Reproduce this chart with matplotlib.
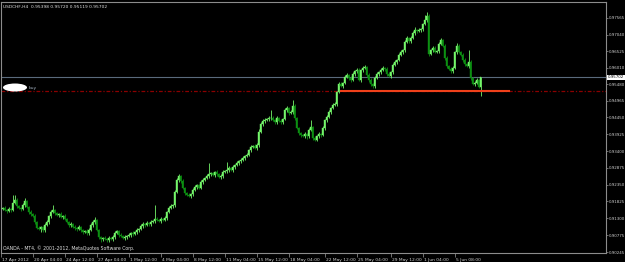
import numpy as np
import matplotlib
matplotlib.use("Agg")
import matplotlib.pyplot as plt
import matplotlib.transforms as mtransforms
from matplotlib.patches import Ellipse

# Title strings
symbol_info = "USDCHF,H4  0.95398 0.95720 0.95119 0.95702"
copyright_text = "OANDA - MT4, \u00a9 2001-2012, MetaQuotes Software Corp."

# H4 candles (open of each bar = close of the bar before)
first_open = 0.9160
closes = [
    0.9162, 0.9156, 0.9153, 0.9159, 0.9156, 0.9178, 0.9187, 0.9168, 0.9162, 0.9159,
    0.9171, 0.9184, 0.9165, 0.9150, 0.9143, 0.9137, 0.9118, 0.9100, 0.9096, 0.9103,
    0.9093, 0.9109, 0.9118, 0.9137, 0.9150, 0.9156, 0.9146, 0.9140, 0.9143, 0.9134,
    0.9137, 0.9128, 0.9118, 0.9109, 0.9112, 0.9103, 0.9100, 0.9096, 0.9103, 0.9093,
    0.9087, 0.9090, 0.9084, 0.9093, 0.9109, 0.9118, 0.9125, 0.9093, 0.9071, 0.9065,
    0.9068, 0.9065, 0.9062, 0.9068, 0.9065, 0.9071, 0.9084, 0.9090, 0.9078, 0.9075,
    0.9068, 0.9071, 0.9075, 0.9078, 0.9084, 0.9081, 0.9087, 0.9093, 0.9096, 0.9106,
    0.9112, 0.9109, 0.9115, 0.9112, 0.9118, 0.9121, 0.9128, 0.9125, 0.9121, 0.9128,
    0.9125, 0.9131, 0.9150, 0.9162, 0.9168, 0.9171, 0.9212, 0.9250, 0.9262, 0.9246,
    0.9225, 0.9209, 0.9203, 0.9200, 0.9206, 0.9218, 0.9228, 0.9234, 0.9225, 0.9243,
    0.9250, 0.9256, 0.9262, 0.9268, 0.9271, 0.9265, 0.9275, 0.9268, 0.9259, 0.9262,
    0.9275, 0.9278, 0.9281, 0.9287, 0.9281, 0.9290, 0.9296, 0.9303, 0.9309, 0.9312,
    0.9318, 0.9325, 0.9328, 0.9343, 0.9353, 0.9356, 0.9350, 0.9359, 0.9400, 0.9425,
    0.9434, 0.9437, 0.9440, 0.9443, 0.9443, 0.9437, 0.9431, 0.9443, 0.9434, 0.9431,
    0.9440, 0.9468, 0.9475, 0.9459, 0.9462, 0.9481, 0.9443, 0.9412, 0.9396, 0.9390,
    0.9387, 0.9393, 0.9387, 0.9406, 0.9415, 0.9381, 0.9375, 0.9387, 0.9393, 0.9390,
    0.9412, 0.9437, 0.9446, 0.9462, 0.9475, 0.9484, 0.9487, 0.9525, 0.9550, 0.9543,
    0.9553, 0.9571, 0.9578, 0.9568, 0.9562, 0.9581, 0.9590, 0.9593, 0.9562, 0.9593,
    0.9600, 0.9603, 0.9578, 0.9562, 0.9550, 0.9543, 0.9568, 0.9581, 0.9587, 0.9593,
    0.9600, 0.9596, 0.9581, 0.9575, 0.9587, 0.9609, 0.9618, 0.9625, 0.9640, 0.9650,
    0.9656, 0.9681, 0.9693, 0.9684, 0.9693, 0.9709, 0.9718, 0.9715, 0.9718, 0.9721,
    0.9737, 0.9750, 0.9762, 0.9643, 0.9656, 0.9662, 0.9650, 0.9653, 0.9675, 0.9687,
    0.9668, 0.9631, 0.9606, 0.9596, 0.9590, 0.9600, 0.9650, 0.9668, 0.9650, 0.9640,
    0.9625, 0.9612, 0.9606, 0.9618, 0.9568, 0.9550, 0.9553, 0.9562, 0.9540, 0.95702,
]

# wick lengths above / below the body, in pips
up_wick = [
    4, 5, 3, 6, 4, 25, 16, 5, 4, 3, 6, 10, 4, 3, 5, 4, 6, 3, 5, 4,
    4, 5, 6, 4, 7, 15, 4, 5, 3, 6, 4, 5, 3, 4, 6, 3, 5, 4, 6, 3,
    4, 3, 5, 6, 5, 6, 9, 4, 3, 5, 4, 6, 3, 5, 4, 6, 5, 4, 3, 5,
    4, 6, 3, 5, 4, 6, 3, 5, 4, 6, 5, 4, 6, 3, 5, 4, 43, 5, 4, 6,
    3, 5, 4, 6, 5, 4, 6, 5, 6, 4, 6, 3, 4, 5, 4, 6, 5, 4, 3, 6,
    5, 4, 6, 35, 4, 5, 3, 6, 4, 5, 6, 4, 25, 5, 4, 6, 3, 5, 4, 6,
    5, 4, 6, 3, 5, 4, 6, 5, 8, 6, 5, 7, 4, 6, 25, 5, 4, 6, 4, 5,
    4, 6, 5, 4, 6, 19, 5, 4, 3, 5, 4, 6, 3, 5, 22, 4, 5, 3, 6, 4,
    5, 4, 6, 5, 4, 6, 5, 4, 6, 5, 4, 6, 5, 4, 6, 5, 4, 6, 5, 4,
    6, 5, 4, 6, 5, 4, 6, 5, 4, 6, 5, 4, 6, 5, 4, 6, 5, 4, 6, 5,
    4, 6, 5, 4, 6, 5, 10, 4, 6, 5, 4, 15, 13, 5, 4, 6, 5, 4, 6, 5,
    4, 6, 5, 4, 6, 5, 4, 10, 5, 4, 6, 5, 4, 38, 5, 4, 6, 5, 4, 2,
]
dn_wick = [
    5, 4, 6, 3, 5, 4, 5, 6, 4, 5, 3, 5, 4, 6, 5, 4, 6, 5, 4, 8,
    6, 5, 4, 6, 5, 4, 6, 3, 5, 4, 6, 5, 4, 6, 5, 4, 6, 5, 4, 6,
    5, 4, 6, 5, 4, 6, 5, 4, 6, 9, 5, 4, 6, 5, 4, 6, 5, 4, 6, 5,
    4, 6, 5, 4, 6, 5, 4, 6, 5, 4, 6, 5, 4, 6, 5, 4, 6, 5, 4, 6,
    5, 4, 6, 5, 4, 6, 5, 4, 6, 5, 4, 6, 5, 4, 6, 5, 4, 6, 5, 4,
    6, 5, 4, 6, 5, 4, 6, 5, 4, 6, 5, 4, 6, 5, 4, 6, 5, 4, 6, 5,
    4, 6, 5, 4, 6, 5, 4, 6, 5, 4, 6, 5, 4, 6, 5, 4, 6, 5, 4, 6,
    5, 4, 6, 5, 4, 6, 5, 4, 6, 5, 4, 6, 9, 5, 4, 6, 5, 4, 6, 5,
    4, 6, 5, 4, 6, 5, 4, 6, 5, 4, 6, 5, 4, 6, 5, 4, 6, 5, 4, 6,
    5, 4, 6, 5, 6, 6, 5, 4, 6, 5, 4, 6, 5, 4, 6, 5, 4, 6, 5, 4,
    6, 5, 4, 6, 5, 4, 6, 5, 4, 6, 5, 4, 6, 5, 4, 6, 5, 4, 6, 5,
    4, 6, 5, 4, 6, 5, 4, 6, 5, 4, 6, 5, 4, 6, 5, 4, 6, 5, 4, 28,
]

# time axis labels (bar index of each label)
time_labels = ["17 Apr 2012", "20 Apr 04:00", "24 Apr 12:00", "27 Apr 04:00",
               "1 May 12:00", "4 May 04:00", "8 May 12:00", "11 May 04:00",
               "15 May 12:00", "18 May 04:00", "22 May 12:00", "25 May 04:00",
               "29 May 12:00", "1 Jun 04:00", "5 Jun 08:00"]
time_ticks = [-0.75, 15, 31, 47, 63, 79, 95, 111, 127, 143, 161, 177, 194, 210, 226]

price_ticks = [0.97565, 0.97040, 0.96525, 0.96010, 0.95480, 0.94965, 0.94450,
               0.93925, 0.93400, 0.92875, 0.92350, 0.91825, 0.91300, 0.90775,
               0.90245]

last_price = 0.95702
buy_level = 0.9528
level_from, level_to = 169, 253

# ---- build candles
closes = np.array(closes)
opens = np.r_[first_open, closes[:-1]]
highs = np.maximum(opens, closes) + np.array(up_wick) * 0.0001
lows = np.minimum(opens, closes) - np.array(dn_wick) * 0.0001
idx = np.arange(len(closes))
bull = closes >= opens
body_col = np.where(bull, "#74f56a", "#0c8f12")

fig = plt.figure(figsize=(6.25, 2.62), dpi=100, facecolor="black")
ax = fig.add_axes([1 / 625, 9 / 262, 605 / 625, 251 / 262])
ax.set_facecolor("black")

ax.vlines(idx, lows, highs, colors=body_col, linewidth=0.6, zorder=3)
ax.bar(idx, np.abs(closes - opens), bottom=np.minimum(opens, closes), width=0.85,
       color=body_col, edgecolor=body_col, linewidth=0.3, zorder=4)

# current price line, buy level and trendline segment
ax.axhline(last_price, color="#5a6a7c", lw=0.8, zorder=2)
ax.axhline(buy_level, color="#8b0000", lw=0.9, ls=(0, (3, 1.5, 1, 1.5)), zorder=2)
ax.plot([level_from, level_to], [buy_level, buy_level], color="#f0401a", lw=1.5, zorder=5)

ax.set_xlim(-0.75, 301.75)
ax.set_ylim(0.90214, 0.980575)

for s in ax.spines.values():
    s.set_color("#8c8c8c")
    s.set_linewidth(0.8)

# y axis on the right
ax.yaxis.tick_right()
ax.set_yticks(price_ticks)
ax.set_yticklabels(["%.5f" % p for p in price_ticks])
ax.tick_params(axis="y", direction="out", length=1.5, width=0.5, colors="#9a9a9a",
               labelcolor="#d0d0d0", labelsize=2.9, pad=0.6)

# x axis
ax.set_xticks(time_ticks)
ax.set_xticklabels(time_labels)
ax.tick_params(axis="x", direction="out", length=3, width=0.5, colors="#9a9a9a",
               labelcolor="#d0d0d0", labelsize=3.2, pad=0.3)
shift = mtransforms.ScaledTranslation(1.5 / 100, 0, fig.dpi_scale_trans)
for lab in ax.get_xticklabels():
    lab.set_horizontalalignment("left")
    lab.set_transform(lab.get_transform() + shift)

# highlighted last price on the price scale
ax.text(1.003, last_price, "0.95702", transform=ax.get_yaxis_transform(),
        ha="left", va="center", fontsize=2.9, color="black", zorder=6, clip_on=False,
        bbox=dict(facecolor="white", edgecolor="none", pad=0.4))

# texts
fig.text(3 / 625, 1 - 6.5 / 262, symbol_info, color="#e0e0e0", fontsize=3.2, va="center")
fig.text(3 / 625, 1 - 248 / 262, copyright_text, color="#e0e0e0", fontsize=3.3, va="center")
fig.add_artist(Ellipse((15 / 625, 1 - 87.5 / 262), 24 / 625, 8 / 262,
                       transform=fig.transFigure, facecolor="white", edgecolor="none", zorder=7))
fig.text(29 / 625, 1 - 87.5 / 262, "buy", color="#a9b8c8", fontsize=3.2, va="center")

fig.savefig("out.png", dpi=100, facecolor="black")
